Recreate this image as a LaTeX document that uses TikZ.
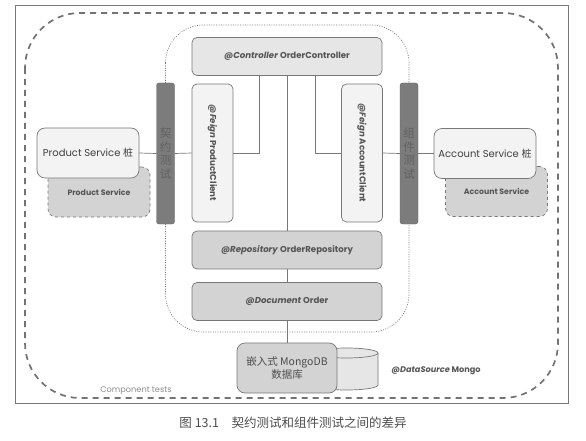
\documentclass[tikz,border=0pt]{standalone}
\usepackage{fontspec}
\setsansfont{Poppins}
\newfontfamily\cjk{Noto Sans CJK SC}
\usepackage{xcolor}
\usetikzlibrary{positioning}
\definecolor{linegray}{HTML}{787878}
\definecolor{labelgray}{HTML}{555555}
\definecolor{paleboxfill}{HTML}{F3F3F3}
\definecolor{lightboxfill}{HTML}{E6E6E6}
\definecolor{midboxfill}{HTML}{D3D3D3}
\definecolor{barfill}{HTML}{7C7C7C}
\tikzset{
  box/.style={draw=linegray, line width=0.7pt, rounded corners=5pt, inner sep=0pt,
    font=\sffamily\bfseries\fontsize{8.6}{9}\selectfont, text=labelgray},
  layer/.style={box, minimum width=190pt, minimum height=38pt},
  feign/.style={box, fill=paleboxfill, minimum width=41pt, minimum height=138pt},
  stub/.style={box, fill=paleboxfill, rounded corners=8pt, minimum width=102pt, minimum height=50pt,
    font=\sffamily\fontsize{10}{11}\selectfont, text=black!75},
  realsvc/.style={box, dashed, fill=midboxfill, rounded corners=8pt, minimum width=102pt, minimum height=50pt,
    font=\sffamily\bfseries\fontsize{7.8}{9}\selectfont},
  testbar/.style={draw=black!60, fill=barfill, rounded corners=2.5pt, minimum width=18pt, minimum height=141pt,
    inner sep=0pt, align=center, text=black!62, font=\cjk\fontsize{11.5}{13.5}\selectfont},
  wire/.style={draw=linegray, line width=0.7pt}
}
\begin{document}
\begin{tikzpicture}[x=1pt, y=-1pt]
        \useasboundingbox (0,0) rectangle (586,441);
        \draw[linegray, line width=0.9pt] (15,5) rectangle (568,403);
        \draw[black!55, line width=1.7pt, dash pattern=on 6pt off 5pt, rounded corners=55pt] (25,13) rectangle (558,398);
        \draw[linegray, line width=0.65pt, dash pattern=on 1pt off 1.4pt, rounded corners=38pt] (165.5,25) rectangle (409,332);
        \node[font=\sffamily\fontsize{8.2}{9}\selectfont, text=black!45] (comptests) at (136,391) {Component tests};

        % order service
        \node[layer, fill=lightboxfill] (ctrl) at (287,56.5) {\textit{@Controller} OrderController};
        \node[feign] (pclient) at (212.5,153) {\rotatebox{-90}{\textit{@Feign} ProductClient}};
        \node[feign] (aclient) at (362,153) {\rotatebox{-90}{\textit{@Feign} AccountClient}};
        \node[layer, fill=midboxfill] (repo) at (287,250) {\textit{@Repository} OrderRepository};
        \node[layer, fill=midboxfill] (doc) at (287,301.5) {\textit{@Document} Order};

        % stubs and real services
        \node[realsvc] (psvc) at (99,192) {Product Service};
        \node[stub] (pstub) at (88,153) {Product Service {\cjk 桩}};
        \node[realsvc] (asvc) at (496.5,191.5) {Account Service};
        \node[stub] (astub) at (485,153.5) {Account Service {\cjk 桩}};

        \node[testbar] (pbar) at (165.5,153.5) {契\\约\\测\\试};
        \node[testbar] (abar) at (409,153.5) {组\\件\\测\\试};

        % embedded database
        \draw[linegray, line width=0.7pt, fill=lightboxfill] (315,353) -- (315,385)
            arc[start angle=180, end angle=360, x radius=31.5pt, y radius=5pt] -- (378,353)
            arc[start angle=0, end angle=180, x radius=31.5pt, y radius=5pt];
        \draw[linegray, line width=0.7pt] (315,353) arc[start angle=180, end angle=360, x radius=31.5pt, y radius=5pt];
        \node[box, fill=midboxfill, rounded corners=8pt, minimum width=100pt, minimum height=50pt, align=center,
            font=\cjk\fontsize{10.5}{13}\selectfont, text=black!70] (mongo) at (287,368) {嵌入式 MongoDB\\数据库};
        \node[font=\sffamily\bfseries\fontsize{8.2}{9}\selectfont, text=labelgray] (dsource) at (436,371) {\textit{@DataSource} Mongo};

        \draw[wire] (ctrl.south) -- (repo.north);
        \draw[wire] (repo.south) -- (doc.north);
        \draw[wire] (doc.south) -- (mongo.north);
        \draw[wire] ([xshift=-28pt]ctrl.south) |- (pclient.east);
        \draw[wire] ([xshift=28pt]ctrl.south) |- (aclient.west);
        \draw[wire] (pstub.east) -- (pbar.west);
        \draw[wire] (pbar.east) -- (pclient.west);
        \draw[wire] (aclient.east) -- (abar.west);
        \draw[wire] (abar.east) -- (astub.west);

        \node[font=\cjk\fontsize{12.5}{14}\selectfont, text=black!70] (caption) at (293,423) {图 13.1\quad 契约测试和组件测试之间的差异};
\end{tikzpicture}
\end{document}
